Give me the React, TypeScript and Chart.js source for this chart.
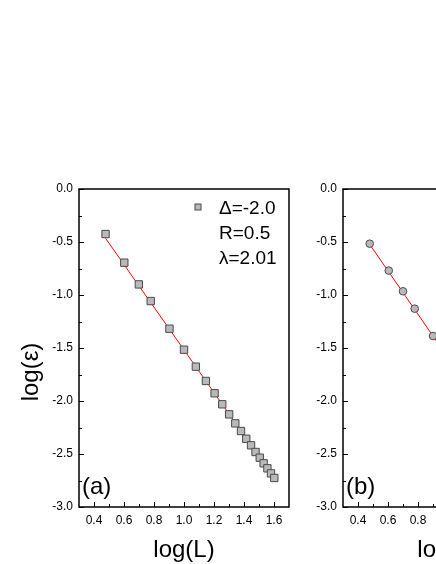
import React, { useEffect, useRef } from "react";
import { Chart, registerables } from "chart.js";

Chart.register(...registerables);

// ---- data ----
const X_TICKS = [0.4, 0.6, 0.8, 1.0, 1.2, 1.4, 1.6];
const Y_TICKS = [0.0, -0.5, -1.0, -1.5, -2.0, -2.5, -3.0];
const X_MIN = 0.3;
const X_MAX = 1.7;
const Y_MIN = -3.0;
const Y_MAX = 0.0;

const LOG_L_A = [0.477, 0.602, 0.699, 0.778, 0.903, 1.0, 1.079, 1.146, 1.204, 1.255, 1.301, 1.342, 1.38, 1.415, 1.447, 1.477, 1.505, 1.531, 1.556, 1.58, 1.602];
const LOG_EPS_A = [-0.425, -0.695, -0.9, -1.057, -1.318, -1.516, -1.676, -1.811, -1.927, -2.031, -2.126, -2.211, -2.283, -2.356, -2.418, -2.481, -2.535, -2.588, -2.635, -2.683, -2.726];
const FIT_X_A = [0.477, 1.602];
const FIT_Y_A = [-0.465, -2.73];

const LOG_L_B = [0.478, 0.605, 0.7, 0.778, 0.9];
const LOG_EPS_B = [-0.516, -0.77, -0.965, -1.129, -1.387];
const FIT_X_B = [0.477, 0.95];
const FIT_Y_B = [-0.52, -1.49];

const LEGEND_A = ["\u0394=-2.0", "R=0.5", "\u03bb=2.01"];
const X_TITLE = "log(L)";
const Y_TITLE = "log(\u03b5)";
const PANEL_LABELS = ["(a)", "(b)"];

const FONT = "'Liberation Sans', Arial, Helvetica, sans-serif";
Chart.defaults.font.family = FONT;

const MARKER_FILL = "#b9b9b9";
const MARKER_EDGE = "#4a4a4a";

type PanelProps = {
  left: number;
  xs: number[];
  ys: number[];
  fitX: number[];
  fitY: number[];
  pointStyle: string;
  radius: number;
  label: string;
  showYTitle: boolean;
  legend: string[] | null;
};

function Panel(p: PanelProps) {
  const ref = useRef<HTMLCanvasElement | null>(null);
  useEffect(() => {
    if (!ref.current) return;
    const decor = {
      id: "decor",
      afterDraw(chart: any) {
        const { ctx, chartArea: a, scales } = chart;
        const xs = scales.x;
        const ys = scales.y;
        ctx.save();
        // ticks (inside)
        ctx.strokeStyle = "#000";
        ctx.lineWidth = 1;
        ctx.beginPath();
        X_TICKS.forEach((v) => {
          const px = Math.round(xs.getPixelForValue(v)) + 0.5;
          ctx.moveTo(px, a.bottom);
          ctx.lineTo(px, a.bottom - 5);
          const m = v + 0.1;
          if (m < X_MAX - 1e-6) {
            const pm = Math.round(xs.getPixelForValue(m)) + 0.5;
            ctx.moveTo(pm, a.bottom);
            ctx.lineTo(pm, a.bottom - 3);
          }
          if (v === X_TICKS[0] && v - 0.1 > X_MIN + 1e-6) {
            const pm = Math.round(xs.getPixelForValue(v - 0.1)) + 0.5;
            ctx.moveTo(pm, a.bottom);
            ctx.lineTo(pm, a.bottom - 3);
          }
        });
        Y_TICKS.forEach((v) => {
          const py = Math.round(ys.getPixelForValue(v)) + 0.5;
          ctx.moveTo(a.left, py);
          ctx.lineTo(a.left + 5, py);
          const m = v - 0.25;
          if (m > Y_MIN + 1e-6) {
            const pm = Math.round(ys.getPixelForValue(m)) + 0.5;
            ctx.moveTo(a.left, pm);
            ctx.lineTo(a.left + 3, pm);
          }
        });
        ctx.stroke();
        // frame
        ctx.lineWidth = 1.5;
        ctx.strokeRect(a.left, a.top, a.right - a.left, a.bottom - a.top);

        // titles
        ctx.fillStyle = "#000";
        ctx.font = `24px ${FONT}`;
        ctx.textAlign = "center";
        ctx.textBaseline = "alphabetic";
        ctx.fillText(X_TITLE, (a.left + a.right) / 2, 557);
        if (p.showYTitle) {
          ctx.save();
          ctx.translate(38, (a.top + a.bottom) / 2 + 24);
          ctx.rotate(-Math.PI / 2);
          ctx.fillText(Y_TITLE, 0, 0);
          ctx.restore();
        }
        // panel label
        ctx.textAlign = "left";
        ctx.fillText(p.label, a.left + 3, a.bottom - 13);

        // legend
        if (p.legend) {
          const mx = a.left + 119;
          const my = a.top + 18;
          ctx.fillStyle = MARKER_FILL;
          ctx.strokeStyle = MARKER_EDGE;
          ctx.lineWidth = 1;
          ctx.fillRect(mx - 3, my - 3, 6, 6);
          ctx.strokeRect(mx - 3, my - 3, 6, 6);
          ctx.fillStyle = "#000";
          ctx.font = `19px ${FONT}`;
          ctx.textAlign = "left";
          const tx = a.left + 140;
          p.legend.forEach((t, i) => {
            ctx.fillText(t, tx, a.top + 24.5 + i * 25.3);
          });
        }
        ctx.restore();
      },
    };

    const chart = new Chart(ref.current, {
      type: "scatter",
      data: {
        datasets: [
          {
            data: p.xs.map((x, i) => ({ x, y: p.ys[i] })),
            pointStyle: p.pointStyle as any,
            pointRadius: p.radius,
            pointBackgroundColor: MARKER_FILL,
            pointBorderColor: MARKER_EDGE,
            pointBorderWidth: 1,
            showLine: false,
          },
          {
            data: p.fitX.map((x, i) => ({ x, y: p.fitY[i] })),
            showLine: true,
            borderColor: "#ff0000",
            borderWidth: 1,
            pointRadius: 0,
          },
        ],
      },
      options: {
        animation: false,
        responsive: false,
        devicePixelRatio: 1,
        layout: { padding: { top: 189, right: 11, left: 0, bottom: 0 } },
        plugins: { legend: { display: false }, tooltip: { enabled: false } },
        scales: {
          x: {
            type: "linear",
            min: X_MIN,
            max: X_MAX,
            grid: { display: false, drawTicks: false },
            border: { display: false },
            afterBuildTicks: (s: any) => {
              s.ticks = X_TICKS.map((v) => ({ value: v }));
            },
            afterFit: (s: any) => {
              s.height = 57;
            },
            ticks: {
              color: "#000",
              font: { size: 12 },
              padding: 6,
              maxRotation: 0,
              autoSkip: false,
              callback: (v: any) => Number(v).toFixed(1),
            },
          },
          y: {
            type: "linear",
            min: Y_MIN,
            max: Y_MAX,
            grid: { display: false, drawTicks: false },
            border: { display: false },
            afterBuildTicks: (s: any) => {
              s.ticks = Y_TICKS.map((v) => ({ value: v }));
            },
            afterFit: (s: any) => {
              s.width = 79;
            },
            ticks: {
              color: "#000",
              font: { size: 12 },
              padding: 6,
              autoSkip: false,
              callback: (v: any) => Number(v).toFixed(1),
            },
          },
        },
      },
      plugins: [decor],
    });
    return () => chart.destroy();
  }, []);
  return (
    <canvas
      ref={ref}
      width={300}
      height={564}
      style={{ position: "absolute", left: p.left, top: 0, width: 300, height: 564 }}
    />
  );
}

export default function App() {
  return (
    <div
      style={{
        position: "fixed",
        left: 0,
        top: 0,
        width: 436,
        height: 564,
        overflow: "hidden",
        background: "#fff",
      }}
    >
      <Panel
        left={0}
        xs={LOG_L_A}
        ys={LOG_EPS_A}
        fitX={FIT_X_A}
        fitY={FIT_Y_A}
        pointStyle="rect"
        radius={5.2}
        label={PANEL_LABELS[0]}
        showYTitle={true}
        legend={LEGEND_A}
      />
      <Panel
        left={264}
        xs={LOG_L_B}
        ys={LOG_EPS_B}
        fitX={FIT_X_B}
        fitY={FIT_Y_B}
        pointStyle="circle"
        radius={3.8}
        label={PANEL_LABELS[1]}
        showYTitle={false}
        legend={null}
      />
    </div>
  );
}
